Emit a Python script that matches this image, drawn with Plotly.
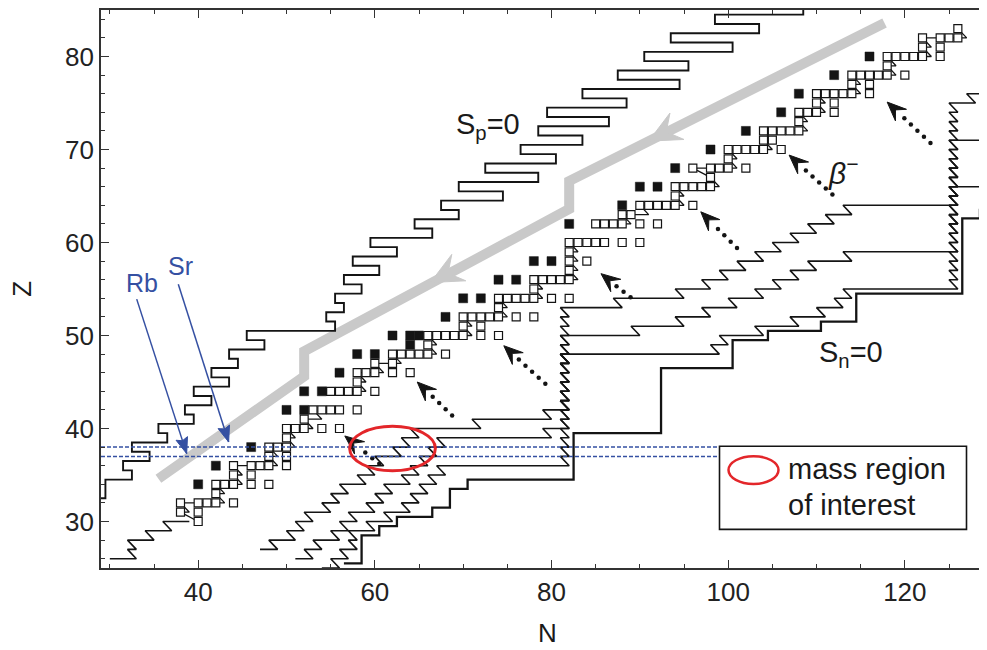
import numpy as np
import plotly.graph_objects as go

# ---------------- layout constants (page pixels) ----------------
W, H = 987, 650
OFF = 8                      # browser body margin
PL, PT, PR, PB = 101, 8, 987, 568.3   # plot area in page pixels
ML, MT = PL - OFF, PT - OFF
MR = W - (PR - OFF)
MB = H - (PB - OFF)
X0, X1 = 29.0, 129.3
Y0, Y1 = 25.0, 85.0
PXN = (PR - PL) / (X1 - X0)
PXZ = (PB - PT) / (Y1 - Y0)

# ---------------- data ----------------
filled_rows = {34: [40], 36: [42], 38: [46], 42: [50, 52], 44: [52, 54], 46: [56],
               48: [58, 60], 49: [64], 50: [62, 64, 65], 52: [68], 54: [70, 72],
               56: [74, 76], 58: [78, 80], 62: [82], 64: [88], 66: [90, 92],
               68: [94], 70: [98], 72: [102], 74: [106], 76: [108], 78: [112], 80: [116]}
open_rows = {30: [40], 31: [38, 40], 32: [38, 40, 41, 42, 44], 33: [42],
             34: [42, 43, 44, 46, 48], 35: [44, 46], 36: [44, 46, 47, 48, 50],
             37: [48, 50], 38: [48, 49, 50], 39: [50], 40: [50, 51, 52, 54, 56],
             41: [52], 42: [53, 54, 55, 56, 58], 44: [55, 56, 57, 58, 60], 45: [58],
             46: [58, 59, 60, 62, 64], 47: [60, 62], 48: [62, 63, 64, 65, 66, 68],
             49: [66], 50: [66, 67, 68, 69, 70, 72, 74], 51: [70, 72],
             52: [70, 71, 72, 73, 74, 76, 78], 53: [74], 54: [74, 75, 76, 77, 78, 80, 82],
             55: [78], 56: [78, 79, 80, 81, 82], 57: [82], 58: [82, 84], 59: [82],
             60: [82, 83, 84, 85, 86, 88, 90], 62: [85, 86, 87, 88, 90, 92], 63: [88, 89],
             64: [90, 91, 92, 93, 94, 96], 65: [94], 66: [94, 95, 96, 97, 98], 67: [98],
             68: [96, 98, 99, 100, 102], 69: [100], 70: [100, 101, 102, 103, 104, 106],
             71: [104, 105], 72: [104, 105, 106, 107, 108], 73: [108],
             74: [108, 109, 110, 112], 75: [110, 112], 76: [110, 111, 112, 113, 114, 116],
             77: [114, 116], 78: [114, 115, 116, 117, 118, 120], 79: [118],
             80: [118, 119, 120, 121, 122, 124], 81: [122, 124], 82: [122, 124, 125, 126],
             83: [126]}

sp_N = [108.5, 108.5, 98.5, 98.5, 103.5, 103.5, 93.5, 93.5, 100.5, 100.5, 90.5, 90.5, 95.5, 95.5,
        87.5, 87.5, 94.5, 94.5, 83.5, 83.5, 88.5, 88.5, 79.5, 79.5, 86.5, 86.5, 78.5, 78.5,
        83.5, 83.5, 76.5, 76.5, 80.5, 80.5, 72.5, 72.5, 78.5, 78.5, 69.5, 69.5, 74.5, 74.5,
        67.5, 67.5, 69.5, 69.5, 64.5, 64.5, 66.5, 66.5, 59.5, 59.5, 62.5, 62.5, 57.5, 57.5,
        60.5, 60.5, 56.5, 56.5, 58.5, 58.5, 55.5, 55.5, 56.5, 56.5, 54.5, 54.5, 55.5, 55.5,
        45.5, 45.5, 47.5, 47.5, 43.5, 43.5, 44.5, 44.5, 41.5, 41.5, 43.5, 43.5, 39.5, 39.5,
        41.5, 41.5, 38.5, 38.5, 39.5, 39.5, 35.5, 35.5, 36.5, 36.5, 32.5, 32.5, 34.5, 34.5,
        31.5, 31.5, 32.5, 32.5, 29.5, 29.5, 28.5]
sp_Z = [86.0, 84.5, 84.5, 83.5, 83.5, 82.5, 82.5, 81.5, 81.5, 80.5, 80.5, 79.5, 79.5, 78.5,
        78.5, 77.5, 77.5, 76.5, 76.5, 75.5, 75.5, 74.5, 74.5, 73.5, 73.5, 72.5, 72.5, 71.5,
        71.5, 70.5, 70.5, 69.5, 69.5, 68.5, 68.5, 67.5, 67.5, 66.5, 66.5, 65.5, 65.5, 64.5,
        64.5, 63.5, 63.5, 62.5, 62.5, 61.5, 61.5, 60.5, 60.5, 59.5, 59.5, 58.5, 58.5, 57.5,
        57.5, 56.5, 56.5, 55.5, 55.5, 54.5, 54.5, 53.5, 53.5, 52.5, 52.5, 51.5, 51.5, 50.5,
        50.5, 49.5, 49.5, 48.5, 48.5, 47.5, 47.5, 46.5, 46.5, 45.5, 45.5, 44.5, 44.5, 43.5,
        43.5, 42.5, 42.5, 41.5, 41.5, 40.5, 40.5, 39.5, 39.5, 38.5, 38.5, 37.5, 37.5, 36.5,
        36.5, 35.5, 35.5, 34.5, 34.5, 32.5, 32.5]

sn_N = [56.5, 58.5, 58.5, 60.5, 60.5, 62.5, 62.5, 66.5, 66.5, 68.5, 68.5, 70.5, 70.5, 82.5,
        82.5, 92.4, 92.4, 100.5, 100.5, 104.5, 104.5, 110.5, 110.5, 114.5, 114.5, 126.5,
        126.5, 128.5, 128.5, 130.0]
sn_Z = [25.5, 25.5, 28.5, 28.5, 29.5, 29.5, 30.5, 30.5, 31.5, 31.5, 33.5, 33.5, 34.5, 34.5,
        39.5, 39.5, 46.5, 46.5, 49.5, 49.5, 50.5, 50.5, 51.5, 51.5, 54.5, 54.5,
        62.6, 62.6, 63.5, 63.5]

# r-process paths: (start Z, entry N, waiting-point N for each successive Z)
path0 = (26, 30, [33, 33, 35, 37, 39])
pathU = (27, 47, [49, 51, 52, 53, 55, 56, 57, 59, 60, 61, 63, 64, 65, 72, 80,
                  82, 82, 82, 82, 82, 82, 82, 82, 82, 82, 82,
                  88, 95, 98, 100, 102, 104, 106, 108, 110, 112, 114,
                  126, 126, 126, 126, 126, 126, 126, 131])
pathM = (26, 51, [53, 54, 56, 57, 58, 60, 61, 62, 64, 65, 66, 67, 68, 80,
                  82, 82, 82, 82, 82, 82, 82, 82, 82, 82,
                  90, 95, 98, 101, 104, 106, 108, 110, 114,
                  126, 126, 126, 126, 126, 126, 126, 131])
pathL = (25, 54, [56, 57, 58, 58, 60, 62, 64, 65, 66, 67, 68,
                  82, 82, 82, 82, 82, 82, 82, 82, 82, 82, 82, 82,
                  99, 100, 104, 108, 111, 113, 114,
                  126, 126, 126, 126, 126, 126, 126, 126, 126, 126, 126,
                  126, 126, 126, 126, 126, 126, 126, 126, 126, 128, 131])
paths = [path0, pathU, pathM, pathL]

gray_N = [117.7, 82.0, 82.0, 52.0, 52.0, 35.5]
gray_Z = [83.6, 66.6, 63.6, 48.3, 45.6, 34.6]
gray_head_N = [91.0, 66.3]
gray_head_Z = [70.9, 55.7]

beta_tail_N = [60.5, 68.75, 79.3, 88.95, 101.0, 111.8, 122.9]
beta_tail_Z = [36.2, 41.4, 44.8, 54.1, 59.4, 65.15, 70.7]
beta_tip_N = [56.6, 64.8, 74.6, 85.6, 96.9, 106.9, 118.0]
beta_tip_Z = [39.2, 45.0, 48.9, 56.65, 63.3, 69.4, 75.1]

iso_Z = [37, 38]
iso_names = ["Rb", "Sr"]
iso_arrow_tail = [(136.7, 298.3), (178.3, 283.3)]   # page pixels
iso_tip_N = [38.7, 43.45]
iso_tip_Z = [37.3, 38.55]
dash_end_N = 99.2

roi_N, roi_Z, roi_rN, roi_rZ = 62.0, 37.85, 4.85, 2.39

BLUE = "#3550A2"
RED = "#E3262A"
GRAY = "#C9C9C9"
INK = "#141414"
FONT = "Liberation Sans, Arial, sans-serif"


# ---------------- helpers ----------------
def page_to_data(x, y):
    return X0 + (x - PL) / PXN, Y0 + (PB - y) / PXZ


def pap(x, y):
    return (x - PL) / (PR - PL), (PB - y) / (PB - PT)


def head_poly(tipN, tipZ, fromN, fromZ, L, hw, notch):
    tx, ty = tipN * PXN, tipZ * PXZ
    fx, fy = fromN * PXN, fromZ * PXZ
    d = np.array([tx - fx, ty - fy])
    u = d / np.linalg.norm(d)
    n = np.array([-u[1], u[0]])
    tip = np.array([tx, ty])
    pts = [tip, tip - L * u + hw * n, tip - notch * L * u, tip - L * u - hw * n, tip]
    return [p[0] / PXN for p in pts], [p[1] / PXZ for p in pts]


fig = go.Figure()


def add_line(xs, ys, color=INK, width=1.6, dash=None):
    fig.add_trace(go.Scatter(x=xs, y=ys, mode="lines", hoverinfo="skip", showlegend=False,
                             line=dict(color=color, width=width, dash=dash)))


def add_poly(xs, ys, color):
    fig.add_trace(go.Scatter(x=xs, y=ys, mode="lines", fill="toself", fillcolor=color,
                             line=dict(color=color, width=1), hoverinfo="skip", showlegend=False))


# gray thick arrow
add_line(gray_N, gray_Z, GRAY, 10)
for i in range(len(gray_head_N)):
    hx, hy = head_poly(gray_head_N[i], gray_head_Z[i], gray_head_N[i] + 2.0,
                       gray_head_Z[i] + 1.0, 32, 15, 0.62)
    add_poly(hx, hy, GRAY)

# S_p = 0 and S_n = 0 lines
add_line(sp_N, sp_Z, INK, 1.9)
add_line(sn_N, sn_Z, INK, 2.3)

# r-process paths (horizontal captures + beta-decay diagonals)
for z0, nin, waits in paths:
    xs, ys = [nin], [z0]
    for k, nw in enumerate(waits):
        z = z0 + k
        xs += [nw, nw - 1]
        ys += [z, z + 1]
    add_line(xs[:-1], ys[:-1], INK, 1.6)

# connector path through the open squares
rows = sorted(open_rows)
cx, cy = [], []
for z in rows:
    a = open_rows[z][0]
    nxt = open_rows.get(z + 1)
    if nxt is None:
        continue
    b = max(a, nxt[0] + 1)
    cx += [a, b, nxt[0], None]
    cy += [z, z, z + 1, None]
add_line(cx, cy, INK, 1.3)

# nuclei squares
oN = [n for z in open_rows for n in open_rows[z]]
oZ = [z for z in open_rows for n in open_rows[z]]
fN = [n for z in filled_rows for n in filled_rows[z]]
fZ = [z for z in filled_rows for n in filled_rows[z]]
fig.add_trace(go.Scatter(x=oN, y=oZ, mode="markers", hoverinfo="skip", showlegend=False,
                         marker=dict(symbol="square", size=8, color="white",
                                     line=dict(color=INK, width=1.2))))
fig.add_trace(go.Scatter(x=fN, y=fZ, mode="markers", hoverinfo="skip", showlegend=False,
                         marker=dict(symbol="square", size=9, color=INK,
                                     line=dict(color=INK, width=0.5))))

# beta arrows
for i in range(len(beta_tip_N)):
    tN, tZ, fN_, fZ_ = beta_tip_N[i], beta_tip_Z[i], beta_tail_N[i], beta_tail_Z[i]
    hx, hy = head_poly(tN, tZ, fN_, fZ_, 19, 8, 0.6)
    add_poly(hx, hy, INK)
    sx0, sy0 = fN_ * PXN, fZ_ * PXZ
    sx1, sy1 = tN * PXN, tZ * PXZ
    dist = np.hypot(sx1 - sx0, sy1 - sy0)
    nd = int((dist - 19) // 9) + 1
    t = np.array([k * 9.0 / dist for k in range(nd)])
    fig.add_trace(go.Scatter(x=fN_ + (tN - fN_) * t, y=fZ_ + (tZ - fZ_) * t, mode="markers",
                             hoverinfo="skip", showlegend=False,
                             marker=dict(symbol="circle", size=4.5, color=INK)))

# Rb / Sr dashed lines and leader arrows
for z in iso_Z:
    add_line([X0, dash_end_N], [z, z], BLUE, 1.5, "4px,2px")
for i in range(2):
    sN, sZ = page_to_data(*iso_arrow_tail[i])
    add_line([sN, iso_tip_N[i]], [sZ, iso_tip_Z[i]], BLUE, 1.5)
    hx, hy = head_poly(iso_tip_N[i], iso_tip_Z[i], sN, sZ, 16, 6, 0.85)
    add_poly(hx, hy, BLUE)

# ellipse region of interest
fig.add_shape(type="circle", xref="x", yref="y", x0=roi_N - roi_rN, x1=roi_N + roi_rN,
              y0=roi_Z - roi_rZ, y1=roi_Z + roi_rZ, line=dict(color=RED, width=3))

# legend box
bx0, by0 = pap(719.5, 446)
bx1, by1 = pap(966.5, 529.5)
fig.add_shape(type="rect", xref="paper", yref="paper", x0=bx0, x1=bx1, y0=by1, y1=by0,
              line=dict(color=INK, width=1.6), fillcolor="white", layer="above")
ex0, ey0 = pap(728.5, 456)
ex1, ey1 = pap(778.5, 484)
fig.add_shape(type="circle", xref="paper", yref="paper", x0=ex0, x1=ex1, y0=ey1, y1=ey0,
              line=dict(color=RED, width=2.5), layer="above")

annots = []


def ann(text, x, y, size, color="#1a1a1a", xanchor="left", yanchor="middle", angle=0,
        italic=False):
    px, py = pap(x, y)
    annots.append(dict(text=text, x=px, y=py, xref="paper", yref="paper", showarrow=False,
                       xanchor=xanchor, yanchor=yanchor, textangle=angle,
                       font=dict(family=FONT, size=size, color=color,
                                 style="italic" if italic else "normal")))


ann("mass region", 786, 469, 29)
ann("of interest", 786, 505, 29)
ann("S<sub>p</sub>=0", 454, 124, 29)
ann("S<sub>n</sub>=0", 817, 353, 29)
ann("β<sup>−</sup>", 826, 170, 30, italic=True)
ann("Rb", 142, 282, 25, BLUE, xanchor="center")
ann("Sr", 180, 265, 25, BLUE, xanchor="center")
ann("N", 547, 634, 26, xanchor="center")
ann("Z", 22, 288, 26, xanchor="center", angle=-90)

axis_common = dict(ticks="inside", ticklen=8, tickwidth=1.3, tickcolor="#333", showline=True,
                   linecolor="#333", linewidth=1.6, mirror="ticks", showgrid=False,
                   zeroline=False, tickfont=dict(size=26, color="#222"))
fig.update_layout(
    width=W, height=H, margin=dict(l=ML, r=MR, t=MT, b=MB),
    plot_bgcolor="white", paper_bgcolor="white", annotations=annots,
    font=dict(family=FONT, size=26, color="#222"),
    xaxis=dict(range=[X0, X1], tickvals=[40, 60, 80, 100, 120],
               minor=dict(dtick=5, tick0=0, ticks="inside", ticklen=4, tickcolor="#333"),
               **axis_common),
    yaxis=dict(range=[Y0, Y1], tickvals=[30, 40, 50, 60, 70, 80],
               minor=dict(dtick=2, tick0=0, ticks="inside", ticklen=4, tickcolor="#333"),
               **axis_common),
)
fig.write_html("out.html")
